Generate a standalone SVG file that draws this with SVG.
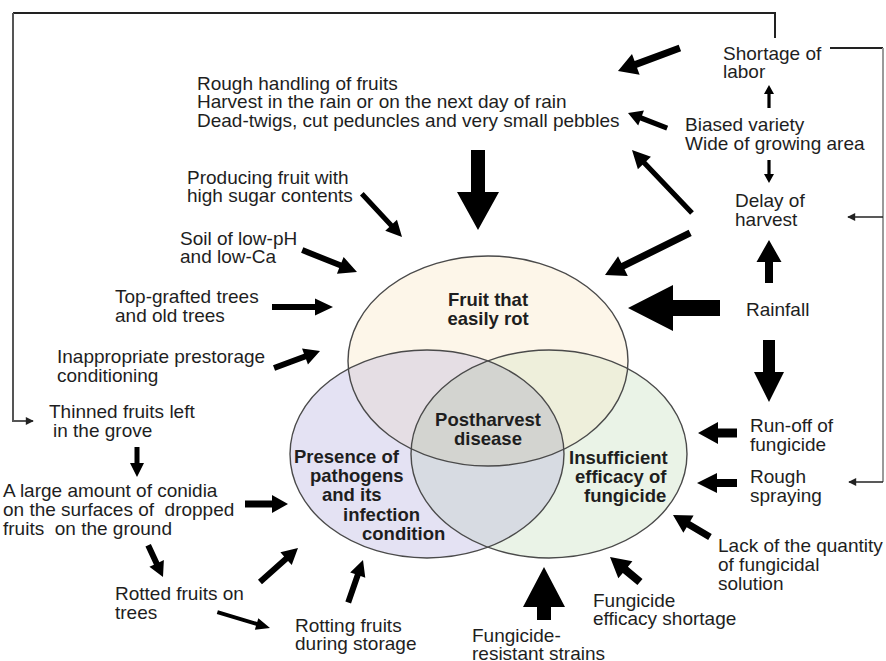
<svg xmlns="http://www.w3.org/2000/svg" width="886" height="661" viewBox="0 0 886 661">
<style>
  text { font-family: "Liberation Sans", Arial, sans-serif; font-size: 19px; fill: #1e1e1e; }
  .b { font-weight: bold; font-size: 18.5px; }
  .ar { fill: #000; }
  .fb { fill: none; stroke: #222; stroke-width: 2; }
  .fg { fill: none; stroke: #9a9a9a; stroke-width: 2; }
  .ed { fill: none; stroke: #4a4a4a; stroke-width: 1.4; }
</style>
<defs>
  <clipPath id="cT"><ellipse cx="488" cy="361" rx="140" ry="105"/></clipPath>
  <clipPath id="cL"><ellipse cx="427" cy="454" rx="137" ry="104"/></clipPath>
  <clipPath id="cR"><ellipse cx="549" cy="454" rx="138" ry="104"/></clipPath>
  <marker id="sm" viewBox="0 0 10 10" refX="9" refY="5" markerWidth="9" markerHeight="8" markerUnits="userSpaceOnUse" orient="auto">
    <path d="M0,0 L10,5 L0,10 z" fill="#222"/>
  </marker>
</defs>

<g id="venn">
  <ellipse cx="488" cy="361" rx="140" ry="105" fill="#fdf6e9"/>
  <ellipse cx="427" cy="454" rx="137" ry="104" fill="#e4e2f3"/>
  <ellipse cx="549" cy="454" rx="138" ry="104" fill="#eaf3e7"/>
  <g clip-path="url(#cT)">
    <ellipse cx="427" cy="454" rx="137" ry="104" fill="#e5dee4"/>
    <ellipse cx="549" cy="454" rx="138" ry="104" fill="#eeefdb"/>
  </g>
  <g clip-path="url(#cL)">
    <ellipse cx="549" cy="454" rx="138" ry="104" fill="#d7dbe2"/>
  </g>
  <g clip-path="url(#cT)"><g clip-path="url(#cL)">
    <ellipse cx="549" cy="454" rx="138" ry="104" fill="#d3d4d0"/>
  </g></g>
  <ellipse class="ed" cx="488" cy="361" rx="140" ry="105"/>
  <ellipse class="ed" cx="427" cy="454" rx="137" ry="104"/>
  <ellipse class="ed" cx="549" cy="454" rx="138" ry="104"/>
</g>

<g id="n-fruit"><text class="b" x="488" y="306" text-anchor="middle">Fruit that</text><text class="b" x="488" y="325" text-anchor="middle">easily rot</text></g>
<g id="n-post"><text class="b" x="488" y="426" text-anchor="middle">Postharvest</text><text class="b" x="488" y="445" text-anchor="middle">disease</text></g>
<g id="n-presence">
  <text class="b" x="294" y="463">Presence of</text>
  <text class="b" x="310" y="482">pathogens</text>
  <text class="b" x="322" y="501">and its</text>
  <text class="b" x="343" y="521">infection</text>
  <text class="b" x="362" y="540">condition</text>
</g>
<g id="n-insuff">
  <text class="b" x="569" y="464">Insufficient</text>
  <text class="b" x="575" y="483">efficacy of</text>
  <text class="b" x="584" y="502">fungicide</text>
</g>

<g id="n-rough"><text x="197" y="90">Rough handling of fruits</text><text x="197" y="108">Harvest in the rain or on the next day of rain</text><text x="197" y="127">Dead-twigs, cut peduncles and very small pebbles</text></g>
<g id="n-producing"><text x="187" y="184">Producing fruit with</text><text x="187" y="202">high sugar contents</text></g>
<g id="n-soil"><text x="180" y="245">Soil of low-pH</text><text x="180" y="263">and low-Ca</text></g>
<g id="n-top"><text x="115" y="303">Top-grafted trees</text><text x="115" y="322">and old trees</text></g>
<g id="n-inapp"><text x="57" y="363">Inappropriate prestorage</text><text x="57" y="382">conditioning</text></g>
<g id="n-thinned"><text x="49" y="418">Thinned fruits left</text><text x="53" y="437">in the grove</text></g>
<g id="n-conidia"><text x="3" y="497">A large amount of conidia</text><text x="3" y="516" xml:space="preserve">on the surfaces of  dropped</text><text x="3" y="535" xml:space="preserve">fruits  on the ground</text></g>
<g id="n-rotted"><text x="115" y="600">Rotted fruits on</text><text x="115" y="619">trees</text></g>
<g id="n-rotting"><text x="295" y="632">Rotting fruits</text><text x="295" y="650">during storage</text></g>
<g id="n-resistant"><text x="472" y="642">Fungicide-</text><text x="472" y="660">resistant strains</text></g>
<g id="n-effshort"><text x="593" y="607">Fungicide</text><text x="593" y="625">efficacy shortage</text></g>
<g id="n-lack"><text x="718" y="552">Lack of the quantity</text><text x="718" y="571">of fungicidal</text><text x="718" y="590">solution</text></g>
<g id="n-spray"><text x="750" y="483">Rough</text><text x="750" y="502">spraying</text></g>
<g id="n-runoff"><text x="750" y="432">Run-off of</text><text x="750" y="451">fungicide</text></g>
<g id="n-rain"><text x="746" y="316">Rainfall</text></g>
<g id="n-delay"><text x="735" y="207">Delay of</text><text x="735" y="226">harvest</text></g>
<g id="n-biased"><text x="685" y="131">Biased variety</text><text x="685" y="150">Wide of growing area</text></g>
<g id="n-labor"><text x="723" y="60">Shortage of</text><text x="723" y="78">labor</text></g>

<g id="connectors">
  <!-- feedback lines -->
  <polyline class="fb" points="775,38 775,13 13,13"/>
  <polyline class="fg" points="13,13 13,421 33,421" style="stroke:#555" marker-end="url(#sm)"/>
  <polyline class="fb" points="830,48 883,48"/>
  <polyline class="fg" points="883,48 883,482"/>
  <line x1="883" y1="217" x2="848" y2="217" stroke="#222" stroke-width="1.6" marker-end="url(#sm)"/>
  <line x1="883" y1="482" x2="849" y2="482" stroke="#222" stroke-width="1.6" marker-end="url(#sm)"/>

  <!-- arrows: tip at origin, pointing +x -->
  <polygon class="ar" transform="translate(618 71) rotate(159.65)" points="0,0 -19,-11 -19,-3.5 -66,-3.5 -66,3.5 -19,3.5 -19,11"/>
  <polygon class="ar" transform="translate(769 85) rotate(-90)" points="0,0 -9,-5 -9,-1.6 -23,-1.6 -23,1.6 -9,1.6 -9,5"/>
  <polygon class="ar" transform="translate(628 113) rotate(-158.96)" points="0,0 -14,-8 -14,-2.6 -42,-2.6 -42,2.6 -14,2.6 -14,8"/>
  <polygon class="ar" transform="translate(769 183) rotate(90)" points="0,0 -9,-5 -9,-1.6 -23,-1.6 -23,1.6 -9,1.6 -9,5"/>
  <polygon class="ar" transform="translate(632 150) rotate(-133.6)" points="0,0 -18,-9 -18,-2.6 -87,-2.6 -87,2.6 -18,2.6 -18,9"/>
  <polygon class="ar" transform="translate(478 230) rotate(90)" points="0,0 -38,-21 -38,-7 -80,-7 -80,7 -38,7 -38,21"/>
  <polygon class="ar" transform="translate(605 275) rotate(153.7)" points="0,0 -20,-11 -20,-3.5 -95,-3.5 -95,3.5 -20,3.5 -20,11"/>
  <polygon class="ar" transform="translate(769 240) rotate(-90)" points="0,0 -22,-12.5 -22,-4 -43,-4 -43,4 -22,4 -22,12.5"/>
  <polygon class="ar" transform="translate(628 308) rotate(180)" points="0,0 -45,-23 -45,-8 -92,-8 -92,8 -45,8 -45,23"/>
  <polygon class="ar" transform="translate(769 402) rotate(90)" points="0,0 -30,-15 -30,-6 -62,-6 -62,6 -30,6 -30,15"/>
  <polygon class="ar" transform="translate(698 433) rotate(180)" points="0,0 -20,-11 -20,-4.5 -39,-4.5 -39,4.5 -20,4.5 -20,11"/>
  <polygon class="ar" transform="translate(697 483) rotate(180)" points="0,0 -20,-10 -20,-4 -40,-4 -40,4 -20,4 -20,10"/>
  <polygon class="ar" transform="translate(673 515) rotate(-149.3)" points="0,0 -18,-10 -18,-3.5 -43,-3.5 -43,3.5 -18,3.5 -18,10"/>
  <polygon class="ar" transform="translate(610 557) rotate(-140.2)" points="0,0 -20,-11 -20,-4 -39,-4 -39,4 -20,4 -20,11"/>
  <polygon class="ar" transform="translate(544 567) rotate(-90)" points="0,0 -40,-21 -40,-7 -53,-7 -53,7 -40,7 -40,21"/>
  <polygon class="ar" transform="translate(402 237) rotate(47.1)" points="0,0 -16,-8 -16,-2.5 -59,-2.5 -59,2.5 -16,2.5 -16,8"/>
  <polygon class="ar" transform="translate(357 272) rotate(21.8)" points="0,0 -18,-9 -18,-3 -59,-3 -59,3 -18,3 -18,9"/>
  <polygon class="ar" transform="translate(333 307) rotate(0)" points="0,0 -18,-8.5 -18,-3 -61,-3 -61,3 -18,3 -18,8.5"/>
  <polygon class="ar" transform="translate(320 351) rotate(-20.3)" points="0,0 -16,-8.5 -16,-3 -49,-3 -49,3 -16,3 -16,8.5"/>
  <polygon class="ar" transform="translate(137 477) rotate(90)" points="0,0 -14,-7 -14,-2.5 -30,-2.5 -30,2.5 -14,2.5 -14,7"/>
  <polygon class="ar" transform="translate(288 504) rotate(0)" points="0,0 -16,-9 -16,-3.5 -43,-3.5 -43,3.5 -16,3.5 -16,9"/>
  <polygon class="ar" transform="translate(163 577) rotate(64.9)" points="0,0 -15,-8 -15,-3 -35,-3 -35,3 -15,3 -15,8"/>
  <polygon class="ar" transform="translate(298 548) rotate(-41.8)" points="0,0 -16,-8.5 -16,-3 -51,-3 -51,3 -16,3 -16,8.5"/>
  <polygon class="ar" transform="translate(270 628) rotate(16.8)" points="0,0 -14,-6 -14,-2 -55,-2 -55,2 -14,2 -14,6"/>
  <polygon class="ar" transform="translate(363 560) rotate(-70.8)" points="0,0 -16,-8 -16,-3 -45,-3 -45,3 -16,3 -16,8"/>
</g>
</svg>
